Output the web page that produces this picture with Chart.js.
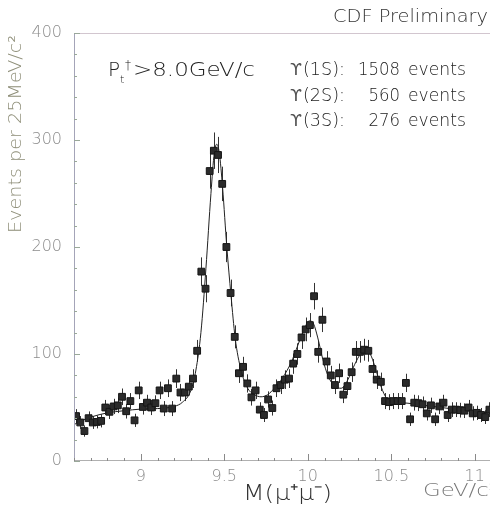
<!DOCTYPE html>
<html>
<head>
<meta charset="utf-8">
<script src="https://cdn.jsdelivr.net/npm/chart.js@4"></script>
<style>
html,body{margin:0;padding:0;overflow:hidden;background:#fff;}
#wrap{width:500px;height:514px;}
</style>
</head>
<body>
<div id="wrap"><canvas id="myChart" width="500" height="514"></canvas></div>
<script>
// histogram: 100 bins of 25 MeV starting at 8.6 GeV
const binStart = 8.6;
const binWidth = 0.025;
const counts = [
  42, 36, 28, 40, 36, 36.5, 37.5, 50, 46, 51,
  52, 60, 46.5, 56, 38, 66, 50.5, 54.5, 50, 54,
  66, 49, 68, 49, 77, 64, 64, 69.5, 77, 103,
  177, 161, 271, 290, 286, 259, 200, 157, 116, 82,
  88, 72.5, 59.5, 66, 48, 43, 57.5, 49.5, 68, 71,
  76, 77, 91, 100, 115.5, 123, 127, 154, 102, 132,
  93, 80, 71, 82, 62, 70, 83, 102, 102, 104,
  103, 86, 76, 74, 56, 55, 56, 56, 56, 73,
  39, 54.5, 54, 53, 44.5, 52, 39, 51, 54.5, 43,
  48, 48, 47.5, 47, 50, 44.5, 45, 43, 41, 48
];

// fit curve
const fitMass = [8.6, 8.65, 8.7, 8.8, 8.9, 9.0, 9.1, 9.2, 9.25, 9.3, 9.33, 9.36, 9.39, 9.42, 9.44, 9.455,
  9.47, 9.49, 9.515, 9.54, 9.565, 9.6, 9.64, 9.68, 9.72, 9.76, 9.8, 9.85, 9.9, 9.94, 9.98, 10.01,
  10.035, 10.06, 10.09, 10.12, 10.16, 10.2, 10.24, 10.28, 10.32, 10.35, 10.38, 10.41, 10.44, 10.47,
  10.5, 10.6, 10.7, 10.8, 10.9, 11.0, 11.1];
const fitValue = [34, 38, 41, 45, 47, 48.5, 49, 51, 55, 66, 85, 120, 180, 250, 288, 296,
  288, 255, 200, 155, 115, 85, 68, 62, 60, 62, 68, 78, 92, 108, 124, 131,
  128, 115, 95, 80, 70, 68, 76, 90, 101, 104, 98, 84, 69, 59,
  56, 54, 52, 50, 48, 46, 45];

const xTicks = [9, 9.5, 10, 10.5, 11];
const xMinorStep = 0.1;
const yMinorStep = 20;

const stateLabels = ['(1S):', '(2S):', '(3S):'];
const stateEvents = ['1508', '560', '276'];

const FONT = '"DejaVu Sans ExtraLight", "DejaVu Sans", sans-serif';

const points = counts.map((v, i) => ({x: binStart + (i + 0.5) * binWidth, y: v}));
const fitPoints = fitMass.map((m, i) => ({x: m, y: fitValue[i]}));

function fitText(ctx, str, x, y, w, size, color, align, font) {
  ctx.save();
  ctx.font = font || ('200 ' + size + 'px ' + FONT);
  ctx.fillStyle = color;
  ctx.textBaseline = 'middle';
  const mw = ctx.measureText(str).width;
  const k = w ? w / mw : 1;
  ctx.translate(align === 'right' ? x - mw * k : x, y);
  ctx.scale(k, 1);
  ctx.fillText(str, 0, 0);
  ctx.restore();
}

const errorBars = {
  id: 'errorBars',
  beforeDatasetsDraw(chart) {
    const ctx = chart.ctx;
    const ys = chart.scales.y;
    const meta = chart.getDatasetMeta(1);
    ctx.save();
    ctx.strokeStyle = '#333';
    ctx.lineWidth = 1;
    meta.data.forEach((el, i) => {
      const v = counts[i];
      const e = Math.sqrt(v);
      const x = Math.round(el.x) + 0.5;
      ctx.beginPath();
      ctx.moveTo(x, ys.getPixelForValue(v + e));
      ctx.lineTo(x, ys.getPixelForValue(Math.max(0, v - e)));
      ctx.stroke();
    });
    ctx.restore();
  }
};

const frame = {
  id: 'frame',
  afterDraw(chart) {
    const ctx = chart.ctx;
    const a = chart.chartArea;
    const xs = chart.scales.x, ys = chart.scales.y;
    ctx.save();
    ctx.lineWidth = 1;
    // frame
    ctx.strokeStyle = '#d2c6cf';
    ctx.beginPath(); ctx.moveTo(a.left, a.top + 0.5); ctx.lineTo(a.right, a.top + 0.5); ctx.stroke();
    ctx.strokeStyle = '#a4a4b8';
    ctx.beginPath(); ctx.moveTo(a.left + 0.5, a.top); ctx.lineTo(a.left + 0.5, a.bottom); ctx.stroke();
    ctx.strokeStyle = '#b0b0b0';
    ctx.beginPath(); ctx.moveTo(a.left, a.bottom - 0.5); ctx.lineTo(a.right, a.bottom - 0.5); ctx.stroke();
    ctx.beginPath(); ctx.moveTo(a.right - 0.5, a.top); ctx.lineTo(a.right - 0.5, a.bottom); ctx.stroke();
    // y ticks
    ctx.strokeStyle = '#9aa89a';
    for (let v = 0; v <= 400; v += yMinorStep) {
      const y = Math.round(ys.getPixelForValue(v)) + 0.5;
      const len = v % 100 === 0 ? 6 : 3;
      ctx.beginPath(); ctx.moveTo(a.left, y); ctx.lineTo(a.left + len, y); ctx.stroke();
    }
    // x ticks
    ctx.strokeStyle = '#8a8a8a';
    for (let k = 0; k <= 25; k++) {
      const m = binStart + k * xMinorStep;
      const x = Math.round(xs.getPixelForValue(m)) + 0.5;
      const major = xTicks.some(t => Math.abs(t - m) < 1e-6);
      const len = major ? 7 : 3;
      ctx.beginPath(); ctx.moveTo(x, a.bottom); ctx.lineTo(x, a.bottom - len); ctx.stroke();
    }
    // header and annotations
    fitText(ctx, 'CDF Preliminary', 333, 17, 155, 18, '#333');
    fitText(ctx, 'P', 108, 71, 0, 20, '#222');
    fitText(ctx, 't', 120, 80, 0, 11, '#222');
    fitText(ctx, '\u2020', 125, 66, 0, 12, '#222');
    fitText(ctx, '>8.0GeV/c', 133, 71, 122, 20, '#222');
    stateLabels.forEach((s, i) => {
      const y = 71 + i * 25.5;
      fitText(ctx, '\u03D2', 290, y, 12, 17, '#555', null, '16px "DejaVu Sans", sans-serif');
      fitText(ctx, s, 303, y, 42, 17, '#222');
      fitText(ctx, stateEvents[i], 400, y, stateEvents[i].length * 10.5, 17, '#222', 'right');
      fitText(ctx, 'events', 408, y, 58, 17, '#222');
    });
    // axis titles
    ctx.save();
    ctx.translate(17, 134);
    ctx.rotate(-Math.PI / 2);
    fitText(ctx, 'Events per 25MeV/c\u00B2', -99, 0, 198, 17, '#8e8e78');
    ctx.restore();
    fitText(ctx, 'M(\u03BC\u207A\u03BC\u207B)', 243, 494, 89, 22, '#333');
    fitText(ctx, 'GeV/c\u00B2', 423, 492, 75, 17, '#777');
    ctx.restore();
  }
};

const ctx = document.getElementById('myChart').getContext('2d');
const chart = new Chart(ctx, {
  type: 'scatter',
  data: {
    datasets: [
      {
        type: 'line',
        label: 'fit',
        data: fitPoints,
        borderColor: '#222',
        borderWidth: 1,
        pointRadius: 0,
        fill: false,
        cubicInterpolationMode: 'monotone',
        order: 2
      },
      {
        label: 'data',
        data: points,
        pointStyle: 'rect',
        pointRadius: 4.8,
        backgroundColor: '#2b2b2b',
        borderColor: '#151515',
        borderWidth: 1,
        order: 1
      }
    ]
  },
  options: {
    responsive: false,
    devicePixelRatio: 1,
    animation: false,
    layout: {padding: {top: 33, right: 8.5, left: 0, bottom: 0}},
    plugins: {legend: {display: false}, tooltip: {enabled: false}},
    scales: {
      x: {
        type: 'linear',
        min: 8.6,
        max: 11.1,
        afterBuildTicks: s => { s.ticks = xTicks.map(v => ({value: v})); },
        afterFit: s => { s.height = 53; },
        grid: {display: false, drawTicks: false},
        border: {display: false},
        ticks: {padding: 6, color: '#8a8a8a', font: {family: FONT, size: 16, weight: 200}, maxRotation: 0, autoSkip: false,
          callback: v => String(v)}
      },
      y: {
        min: 0,
        max: 400,
        afterFit: s => { s.width = 74; },
        grid: {display: false, drawTicks: false},
        border: {display: false},
        ticks: {stepSize: 100, padding: 12, color: '#8c8c8c', font: {family: FONT, size: 16, weight: 200}}
      }
    }
  },
  plugins: [errorBars, frame]
});
</script>
</body>
</html>
